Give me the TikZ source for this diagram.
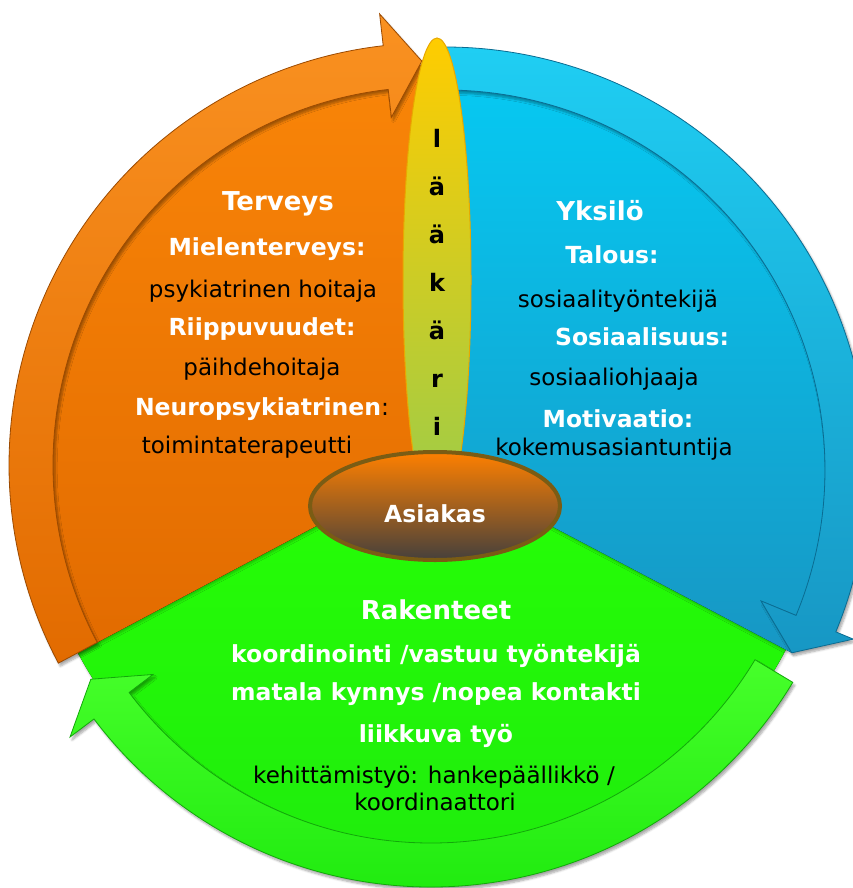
\documentclass[tikz,border=0pt]{standalone}
\usepackage{fontspec}
\setmainfont{DejaVu Sans}
\usepackage{xcolor}
\usepackage{tikz}
\usetikzlibrary{shapes.geometric}
\usetikzlibrary{shadows.blur}

\definecolor{orangeTop}{HTML}{F98508}
\definecolor{orangeBot}{HTML}{E26B00}
\definecolor{orangeLine}{HTML}{9C4A00}
\definecolor{blueTop}{HTML}{06C9F2}
\definecolor{blueBot}{HTML}{1797C4}
\definecolor{blueLine}{HTML}{0A6C92}
\definecolor{greenTop}{HTML}{26FF05}
\definecolor{greenBot}{HTML}{1EEA0E}
\definecolor{greenLine}{HTML}{12A80A}
\definecolor{doctorTop}{HTML}{FFCC00}
\definecolor{doctorBot}{HTML}{98CC4C}
\definecolor{doctorLine}{HTML}{E8A800}
\definecolor{clientTop}{HTML}{FF8000}
\definecolor{clientMid}{HTML}{B5621C}
\definecolor{clientBot}{HTML}{45403C}
\definecolor{clientLine}{HTML}{7A5C14}

\begin{document}
\begin{tikzpicture}[x=1pt,y=1pt,
    sector/.style={blur shadow={shadow xshift=1pt, shadow yshift=-2pt, shadow opacity=25, shadow blur steps=5}},
    band/.style={line width=0.8pt, blur shadow={shadow xshift=2pt, shadow yshift=-3pt, shadow opacity=35, shadow blur steps=6}},
    title/.style={anchor=base, text=white, font=\bfseries\fontsize{26}{30}\selectfont},
    key/.style={anchor=base, text=white, font=\bfseries\fontsize{23.5}{27}\selectfont},
    role/.style={anchor=base, text=black, font=\fontsize{23}{27}\selectfont},
    letter/.style={anchor=base, text=black, font=\bfseries\fontsize{24}{28}\selectfont}]

    \useasboundingbox (0,0) rectangle (852,-888);

    % green sector, bottom
    \fill[sector, top color=greenTop, bottom color=greenBot]
    (431,-465) -- ++(-152:400) arc[start angle=-152, end angle=-26, radius=400] -- cycle;
    \begin{scope}[shift={(431,-465)}]
    \draw[band, draw=greenLine, top color=greenTop!85!white, bottom color=greenBot]% green arrow
    (-31:378) arc[start angle=-31, end angle=-143, radius=378]
    -- (-143:348) -- (-147.8:402) -- (-143:452) -- (-143:422)
    arc[start angle=-143, end angle=-31, radius=422] -- cycle;
    \end{scope}

    % blue sector, right
    \fill[sector, top color=blueTop, bottom color=blueBot]
    (445,-470) -- ++(-27.8:392) arc[start angle=-27.8, end angle=92, radius=392] -- cycle;
    \begin{scope}[shift={(445,-470)}]
    \draw[band, draw=blueLine, top color=blueTop!90!white, bottom color=blueBot]% blue arrow
    (92:380) arc[start angle=92, end angle=-22.5, radius=380]
    -- (-22.5:342) -- (-27.8:392) -- (-22.5:442) -- (-22.5:423)
    arc[start angle=-22.5, end angle=92, radius=423] -- cycle;
    \end{scope}

    % orange sector, left
    \fill[sector, top color=orangeTop, bottom color=orangeBot]
    (431,-465) -- ++(90:400) arc[start angle=90, end angle=208, radius=400] -- cycle;
    \begin{scope}[shift={(431,-465)}]
    \draw[band, draw=orangeLine, top color=orangeTop!90!white, bottom color=orangeBot]% orange arrow
    (208:378) arc[start angle=208, end angle=96.5, radius=378]
    -- (96.5:350) -- (91.3:404) -- (96.5:454) -- (96.5:422)
    arc[start angle=96.5, end angle=208, radius=422] -- cycle;
    \end{scope}

    % doctor
    \node[ellipse, minimum width=68pt, minimum height=484pt, inner sep=0pt,
    draw=doctorLine, line width=1pt, top color=doctorTop, bottom color=doctorBot] (laakari) at (437,-280) {};
    \foreach \ch [count=\i] in {l,ä,ä,k,ä,r,i}
    \node[letter] (kirjain\i) at (437,-147-48*\i+48) {\ch};

    % client
    \node[ellipse, minimum width=250pt, minimum height=108pt, inner sep=0pt,
    draw=clientLine, line width=4pt, top color=clientTop, middle color=clientMid, bottom color=clientBot] (asiakas) at (435,-506) {};
    \node[key] (asiakasText) at (435,-522) {Asiakas};

    % Terveys
    \node[title] (terveys) at (278,-210) {Terveys};
    \node[key] (mielen) at (267,-255) {Mielenterveys:};
    \node[role] (hoitaja) at (263,-297) {psykiatrinen hoitaja};
    \node[key] (riippu) at (262,-335) {Riippuvuudet:};
    \node[role] (paihde) at (262,-375) {päihdehoitaja};
    \node[key] (neuro) at (262,-415) {Neuropsykiatrinen\textcolor{black}{\mdseries:}};
    \node[role] (terapeutti) at (247,-453) {toimintaterapeutti};

    % Yksilö
    \node[title] (yksilo) at (600,-220) {Yksilö};
    \node[key] (talous) at (612,-263) {Talous:};
    \node[role] (sostt) at (618,-307) {sosiaalityöntekijä};
    \node[key] (sosiaal) at (642,-345) {Sosiaalisuus:};
    \node[role] (sosohj) at (614,-385) {sosiaaliohjaaja};
    \node[key] (motiv) at (618,-427) {Motivaatio:};
    \node[role] (kokemus) at (614,-455) {kokemusasiantuntija};

    % Rakenteet
    \node[title] (rakenteet) at (436,-619) {Rakenteet};
    \node[key] (koord) at (436,-662) {koordinointi /vastuu työntekijä};
    \node[key] (matala) at (436,-700) {matala kynnys /nopea kontakti};
    \node[key] (liikkuva) at (436,-742) {liikkuva työ};
    \node[role] (kehitys) at (434,-783) {kehittämistyö: hankepäällikkö /};
    \node[role] (koordinaattori) at (435,-810) {koordinaattori};

\end{tikzpicture}
\end{document}
